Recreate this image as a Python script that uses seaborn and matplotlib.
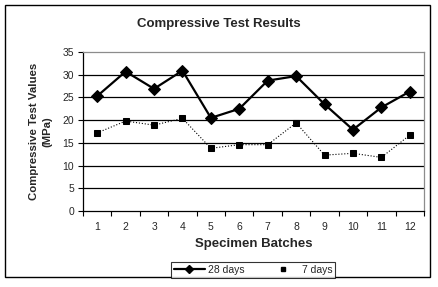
import pandas as pd
import matplotlib
matplotlib.use("Agg")
import matplotlib.pyplot as plt
import seaborn as sns
from matplotlib.lines import Line2D
from matplotlib.patches import Rectangle

# === DATA ===
batches = list(range(1, 13))
days_28 = [25.3, 30.7, 26.9, 30.9, 20.5, 22.5, 28.7, 29.7, 23.5, 17.9, 22.8, 26.3]
days_7 = [17.2, 19.8, 18.9, 20.4, 13.8, 14.6, 14.6, 19.4, 12.3, 12.7, 11.8, 16.7]
y_ticks = [0, 5, 10, 15, 20, 25, 30, 35]

df = pd.DataFrame({"batch": batches, "28 days": days_28, "7 days": days_7})

sns.set_style("white")
plt.rcParams["font.family"] = ["Liberation Sans", "DejaVu Sans"]

fig = plt.figure(figsize=(4.38, 2.87), dpi=100)
ax = fig.add_axes([0.1895, 0.2648, 0.7785, 0.554])

# horizontal gridlines in black
for v in y_ticks[1:-1]:
    ax.axhline(v, color="black", lw=0.9, zorder=0)

sns.lineplot(data=df, x="batch", y="28 days", ax=ax, color="black", lw=1.6,
             marker="D", markersize=6.5, markeredgecolor="black")
sns.lineplot(data=df, x="batch", y="7 days", ax=ax, color="black", lw=0.8,
             linestyle=":", marker="s", markersize=3.8, markeredgecolor="black")

ax.set_xlim(0.5, 12.5)
ax.set_ylim(0, 35)
ax.set_yticks(y_ticks)
ax.set_xticks([b - 0.5 for b in batches] + [12.5])
ax.set_xticklabels([])
ax.set_xticks(batches, minor=True)
ax.set_xticklabels([str(b) for b in batches], minor=True)
ax.tick_params(axis="x", which="major", direction="out", length=3.5, color="black", width=0.8)
ax.tick_params(axis="x", which="minor", length=0, pad=8, labelsize=7.5)
ax.tick_params(axis="y", direction="out", length=3.5, color="black", width=0.8, labelsize=7.5, pad=3)
ax.tick_params(left=True, bottom=True)

for side in ["top", "right"]:
    ax.spines[side].set_color("#8c8c8c")
    ax.spines[side].set_linewidth(0.9)
for side in ["left", "bottom"]:
    ax.spines[side].set_color("black")
    ax.spines[side].set_linewidth(0.9)

ax.set_xlabel("Specimen Batches", fontsize=9.5, fontweight="bold", labelpad=4)
ax.set_ylabel("Compressive Test Values\n(MPa)", fontsize=8.2, fontweight="bold",
              labelpad=7, linespacing=1.5)
fig.text(0.5, 0.915, "Compressive Test Results", ha="center", va="center",
         fontsize=9.5, fontweight="bold")

handles = [
    Line2D([], [], color="black", lw=1.6, marker="D", markersize=4),
    Line2D([], [], color="black", lw=0, marker="s", markersize=3.5),
]
leg = fig.legend(handles, ["28 days", "7 days"], loc="center", bbox_to_anchor=(0.578, 0.059),
                 ncol=2, fontsize=7.5, frameon=True, fancybox=False, edgecolor="black",
                 handlelength=3.0, columnspacing=2.2, borderpad=0.25, handletextpad=0.3)
leg.get_frame().set_linewidth(0.8)

# outer chart border
fig.patches.append(Rectangle((0.012, 0.035), 0.97, 0.948, transform=fig.transFigure,
                             fill=False, edgecolor="black", lw=1.0))

fig.savefig("out.png", dpi=100)
